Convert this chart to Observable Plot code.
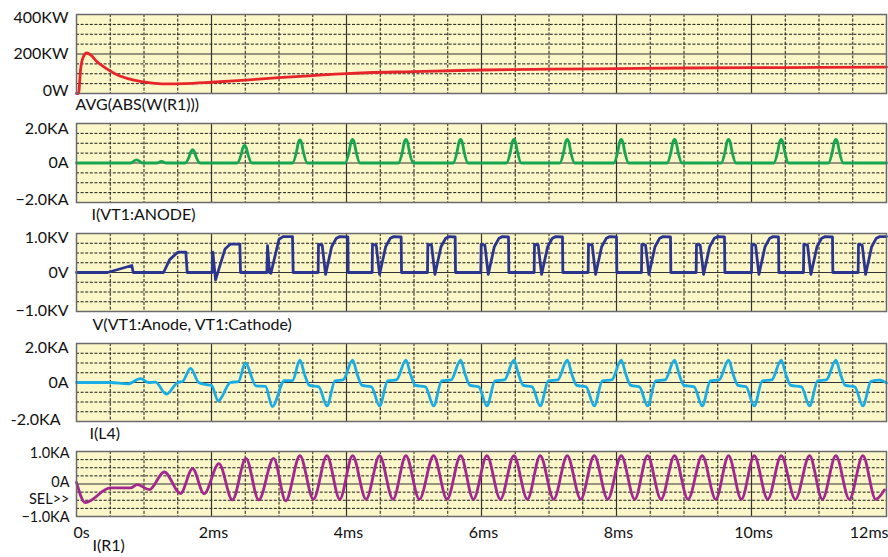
<!DOCTYPE html>
<html><head><meta charset="utf-8">
<script src="https://cdn.jsdelivr.net/npm/d3@7"></script>
<script src="https://cdn.jsdelivr.net/npm/@observablehq/plot@0.6"></script>
<style>
body{margin:0;background:#fff;}
#chart{position:relative;width:888px;height:557px;overflow:hidden;background:#fff;}
#chart svg{position:absolute;left:0;overflow:visible;}
</style></head><body><div id="chart"></div>
<script>
// ---- time axis (ms) ----
const xTickVals = [0, 2, 4, 6, 8, 10, 12];
const xTickLabels = ["0s", "2ms", "4ms", "6ms", "8ms", "10ms", "12ms"];
const xGridMinor = [0.5,1,1.5,2.5,3,3.5,4.5,5,5.5,6.5,7,7.5,8.5,9,9.5,10.5,11,11.5];
const xGridMajor = [2,4,6,8,10];

// ---- AVG(ABS(W(R1))) in KW ----
const powerT = [0,0.03,0.06,0.10,0.15,0.21,0.30,0.45,0.60,0.85,1.10,1.30,1.60,2.00,2.50,3.00,3.50,4.00,5.00,6.00,7.00,8.00,9.00,10.00,11.00,12.00];
const powerV = [0,0,120,185,205,195,162,125,95,68,54,49,50,57,68,80,91,101,111,119,123,126,129,131,132,134];

// ---- I(VT1:ANODE) in KA ----
const anodeT = [0,0.80,0.89,0.98,1.19,1.26,1.33,
1.61,1.67,1.695,1.72,1.745,1.77,1.83,
2.38,2.44,2.465,2.49,2.515,2.54,2.60,
3.20,3.26,3.285,3.31,3.335,3.36,3.42,
3.98,4.04,4.065,4.09,4.115,4.14,4.20,
4.77,4.83,4.855,4.88,4.905,4.93,4.99,
5.58,5.64,5.665,5.69,5.715,5.74,5.80,
6.37,6.43,6.455,6.48,6.505,6.53,6.59,
7.16,7.22,7.245,7.27,7.295,7.32,7.38,
7.96,8.02,8.045,8.07,8.095,8.12,8.18,
8.75,8.81,8.835,8.86,8.885,8.91,8.97,
9.55,9.61,9.635,9.66,9.685,9.71,9.77,
10.33,10.39,10.415,10.44,10.465,10.49,10.55,
11.14,11.20,11.225,11.25,11.275,11.30,11.36,
12.00];
const anodeV = [0,0,0.16,0,0,0.08,0,
0,0.33,0.58,0.67,0.58,0.33,0,
0,0.44,0.77,0.89,0.77,0.44,0,
0,0.58,1.02,1.17,1.02,0.58,0,
0,0.60,1.04,1.2,1.04,0.60,0,
0,0.60,1.04,1.2,1.04,0.60,0,
0,0.60,1.04,1.2,1.04,0.60,0,
0,0.60,1.04,1.2,1.04,0.60,0,
0,0.60,1.04,1.2,1.04,0.60,0,
0,0.60,1.04,1.2,1.04,0.60,0,
0,0.60,1.04,1.2,1.04,0.60,0,
0,0.60,1.04,1.2,1.04,0.60,0,
0,0.60,1.04,1.2,1.04,0.60,0,
0,0.60,1.04,1.2,1.04,0.60,0,
0];

// ---- V(VT1:Anode, VT1:Cathode) in KV ----
const vakT = [0,0.46,0.82,0.84,1.29,1.38,1.50,1.62,1.64,2.01,2.02,2.06,2.20,2.28,2.42,2.43,2.82,2.83,2.86,2.88,3.00,3.06,3.20,3.21,
3.58,3.585,3.64,3.69,3.78,3.85,3.90,4.02,4.025,
4.38,4.385,4.44,4.49,4.58,4.65,4.70,4.81,4.815,
5.20,5.205,5.26,5.31,5.40,5.47,5.52,5.61,5.615,
5.99,5.995,6.05,6.10,6.19,6.26,6.31,6.40,6.405,
6.78,6.785,6.84,6.89,6.98,7.05,7.10,7.20,7.205,
7.58,7.585,7.64,7.69,7.78,7.85,7.90,8.00,8.005,
8.37,8.375,8.43,8.48,8.57,8.64,8.69,8.80,8.805,
9.18,9.185,9.24,9.29,9.38,9.45,9.50,9.60,9.605,
10.00,10.005,10.06,10.11,10.20,10.27,10.32,10.40,10.405,
10.77,10.775,10.83,10.88,10.97,11.04,11.09,11.20,11.205,
11.58,11.585,11.64,11.69,11.78,11.85,11.90,12.00];
const vakV = [0,0,0.18,0,0,0.33,0.52,0.52,0,0,0.52,-0.19,0.60,0.73,0.73,0,0,0.69,0,-0.02,0.85,0.92,0.92,0,
0,0.72,0.70,-0.05,0.66,0.88,0.92,0.91,0,
0,0.72,0.70,-0.05,0.66,0.88,0.92,0.91,0,
0,0.72,0.70,-0.05,0.66,0.88,0.92,0.91,0,
0,0.72,0.70,-0.05,0.66,0.88,0.92,0.91,0,
0,0.72,0.70,-0.05,0.66,0.88,0.92,0.91,0,
0,0.72,0.70,-0.05,0.66,0.88,0.92,0.91,0,
0,0.72,0.70,-0.05,0.66,0.88,0.92,0.91,0,
0,0.72,0.70,-0.05,0.66,0.88,0.92,0.91,0,
0,0.72,0.70,-0.05,0.66,0.88,0.92,0.91,0,
0,0.72,0.70,-0.05,0.66,0.88,0.92,0.91,0,
0,0.72,0.70,-0.05,0.66,0.88,0.92,0.92];

// ---- I(L4) in KA ----
const l4T = [0,0.50,0.76,0.95,1.07,1.17,1.33,1.50,1.57,1.69,1.81,1.91,2.00,2.10,2.28,2.40,2.50,2.66,2.80,2.90,3.08,3.20,
3.31,3.38,3.45,3.59,3.71,3.83,3.95,
4.09,4.16,4.23,4.37,4.49,4.61,4.74,
4.88,4.95,5.02,5.17,5.29,5.41,5.55,
5.69,5.76,5.83,5.96,6.08,6.20,6.34,
6.48,6.55,6.62,6.75,6.87,6.99,7.13,
7.27,7.34,7.41,7.55,7.67,7.79,7.93,
8.07,8.14,8.21,8.34,8.46,8.58,8.72,
8.86,8.93,9.00,9.15,9.27,9.39,9.52,
9.66,9.73,9.80,9.92,10.04,10.16,10.30,
10.44,10.51,10.58,10.74,10.86,10.98,11.11,
11.25,11.32,11.39,11.53,11.65,11.77,11.90,12.00];
const l4V = [0,0,-0.07,0.2,0,0.02,-0.6,0,0.05,0.72,0,-0.1,-0.15,-0.94,0,0.05,0.99,-0.17,-0.2,-1.23,0.09,0.10,
1.15,0.40,-0.15,-0.22,-1.2,0.08,0.13,
1.15,0.40,-0.15,-0.22,-1.2,0.08,0.13,
1.15,0.40,-0.15,-0.22,-1.2,0.08,0.13,
1.15,0.40,-0.15,-0.22,-1.2,0.08,0.13,
1.15,0.40,-0.15,-0.22,-1.2,0.08,0.13,
1.15,0.40,-0.15,-0.22,-1.2,0.08,0.13,
1.15,0.40,-0.15,-0.22,-1.2,0.08,0.13,
1.15,0.40,-0.15,-0.22,-1.2,0.08,0.13,
1.15,0.40,-0.15,-0.22,-1.2,0.08,0.13,
1.15,0.40,-0.15,-0.22,-1.2,0.08,0.13,
1.15,0.40,-0.15,-0.22,-1.2,0.06,0.12,-0.02];

// ---- I(R1) in KA (turning points) ----
const r1T = [0,0.13,0.50,0.80,0.90,1.08,1.30,1.54,1.72,1.89,2.11,2.31,2.51,2.70,2.92,3.10,
3.31,3.51,3.71,3.90,4.09,4.29,4.49,4.69,4.88,5.08,5.29,5.49,5.69,5.88,6.08,6.28,6.48,6.68,6.87,7.07,7.27,7.47,
7.67,7.87,8.07,8.27,8.46,8.66,8.86,9.06,9.27,9.47,9.66,9.85,10.04,10.24,10.44,10.65,10.86,11.05,11.25,11.45,11.65,11.84,11.97];
const r1V = [0.05,-0.57,-0.12,-0.12,-0.02,-0.17,0.37,-0.29,0.47,-0.30,0.63,-0.49,0.79,-0.49,0.79,-0.52,
0.87,-0.47,0.87,-0.47,0.87,-0.47,0.87,-0.47,0.87,-0.47,0.87,-0.47,0.87,-0.47,0.87,-0.47,0.87,-0.47,0.87,-0.47,0.87,-0.47,
0.87,-0.47,0.87,-0.47,0.87,-0.47,0.87,-0.47,0.87,-0.47,0.87,-0.47,0.87,-0.47,0.87,-0.47,0.87,-0.47,0.87,-0.47,0.87,-0.47,-0.18];

const FONT = "Lato, 'Open Sans', sans-serif";
const BG = "#fcf7c9";
const zip = (T, V) => T.map((t, i) => ({t, v: V[i]}));

function panel(o) {
  const mt = 12, mb = o.mb;
  const h = o.bottom - o.top;
  const fs = o.fontSize || 16;
  const marks = [
    Plot.frame({fill: BG, stroke: null}),
    Plot.ruleY(o.gridY, {stroke: "#1a1a1a", strokeWidth: 1, strokeDasharray: "3,1.6"}),
    Plot.ruleX(xGridMinor, {stroke: "#1a1a1a", strokeWidth: 1, strokeDasharray: "3,1.6"}),
    Plot.ruleX(xGridMajor, {stroke: "#333", strokeWidth: 1.2}),
    Plot.ruleY(o.solidY, {stroke: "#333", strokeWidth: 1.2}),
    Plot.line(zip(o.T, o.V), {x: "t", y: "v", stroke: o.color, strokeWidth: 2.8, curve: o.curve, strokeLinejoin: "round"}),
    Plot.frame({stroke: "#6b6b6b", strokeWidth: 1.5}),
    Plot.text([o.name], {frameAnchor: "bottom-left", dx: o.nameDx, dy: o.nameDy, textAnchor: "start", fontSize: 16, fill: "#111"})
  ];
  o.yTicks.forEach((val, i) => {
    marks.push(Plot.text([val], {y: d => d, text: () => o.yLabels[i], frameAnchor: "left", textAnchor: "end",
      dx: o.yDx[i], dy: o.yDy[i], fontSize: fs, fill: "#111"}));
  });
  if (o.extra) marks.push(...o.extra);
  const svg = Plot.plot({
    width: 888, height: mt + h + mb,
    marginLeft: 76, marginRight: 2, marginTop: mt, marginBottom: mb,
    style: {fontFamily: FONT, background: "transparent", overflow: "visible"},
    x: {domain: [0, 12], axis: null},
    y: {domain: o.domain, axis: null},
    marks
  });
  svg.style.top = (o.top - mt) + "px";
  document.getElementById("chart").appendChild(svg);
}

panel({top: 14, bottom: 93, mb: 24, domain: [0, 400], T: powerT, V: powerV, color: "#e8242b", curve: "monotone-x",
  gridY: [50,100,150,250,300,350], solidY: [200],
  yTicks: [400, 200, 0], yLabels: ["400KW", "200KW", "0W"], yDx: [-8,-8,-8], yDy: [3,0,-3],
  name: "AVG(ABS(W(R1)))", nameDx: -1, nameDy: 16});

panel({top: 123, bottom: 202, mb: 24, domain: [-2, 2], T: anodeT, V: anodeV, color: "#16a650", curve: "monotone-x",
  gridY: [-1.5,-1,-0.5,0.5,1,1.5], solidY: [0],
  yTicks: [2, 0, -2], yLabels: ["2.0KA", "0A", "\u22122.0KA"], yDx: [-8,-8,-8], yDy: [5,0,-3],
  name: "I(VT1:ANODE)", nameDx: 15, nameDy: 17});

panel({top: 233, bottom: 311, mb: 24, domain: [-1, 1], T: vakT, V: vakV, color: "#2b3590", curve: "linear",
  gridY: [-0.75,-0.5,-0.25,0.25,0.5,0.75], solidY: [0],
  yTicks: [1, 0, -1], yLabels: ["1.0KV", "0V", "\u22121.0KV"], yDx: [-8,-8,-8], yDy: [4,0,-1],
  name: "V(VT1:Anode, VT1:Cathode)", nameDx: 16, nameDy: 18});

panel({top: 343, bottom: 421, mb: 24, domain: [-2, 2], T: l4T, V: l4V, color: "#19ade6", curve: "monotone-x",
  gridY: [-1.5,-1,-0.5,0.5,1,1.5], solidY: [0],
  yTicks: [2, 0, -2], yLabels: ["2.0KA", "0A", "-2.0KA"], yDx: [-8,-8,-16], yDy: [4,0,-2],
  name: "I(L4)", nameDx: 13, nameDy: 17});

panel({top: 451, bottom: 516, mb: 41, domain: [-1, 1], T: r1T, V: r1V, color: "#a2288f", curve: "monotone-x",
  gridY: [-0.75,-0.5,-0.25,0.25,0.5,0.75], solidY: [0], fontSize: 14.5,
  yTicks: [1, 0, -1], yLabels: ["1.0KA", "0A", "\u22121.0KA"], yDx: [-7,-7,-7], yDy: [2,-2,1],
  name: "I(R1)", nameDx: 16, nameDy: 34,
  extra: [
    Plot.text([-0.48], {y: d => d, text: () => "SEL>>", frameAnchor: "left", textAnchor: "end", dx: -7, fontSize: 14.5, fill: "#111"}),
    Plot.text(xTickVals.slice(1, -1), {x: d => d, text: (d, i) => xTickLabels[i + 1], frameAnchor: "bottom", dy: 21, dx: 2, fontSize: 16, fill: "#111"}),
    Plot.text([xTickVals[0]], {x: d => d, text: () => xTickLabels[0], frameAnchor: "bottom", textAnchor: "start", dy: 21, dx: -3, fontSize: 16, fill: "#111"}),
    Plot.text([xTickVals[xTickVals.length - 1]], {x: d => d, text: () => xTickLabels[xTickLabels.length - 1], frameAnchor: "bottom", textAnchor: "end", dy: 21, dx: 2, fontSize: 16, fill: "#111"})
  ]});
</script></body></html>
